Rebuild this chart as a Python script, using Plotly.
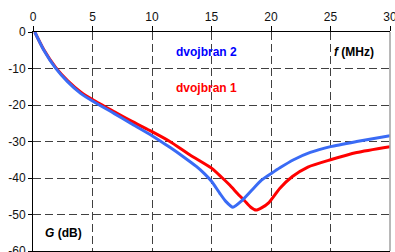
import plotly.graph_objects as go

# dvojbran 1 (red)
f1 = [0.15, 0.9, 1.9, 2.9, 4.0, 5.0, 6.8, 8.2, 10.0, 11.5, 13.2, 15.0, 15.85,
      16.55, 17.2, 17.8, 18.3, 18.75, 19.2, 19.8, 20.75, 21.8, 23.1, 25.0, 27.2, 30.0]
g1 = [0.0, -4.8, -9.7, -13.3, -16.4, -18.5, -21.8, -24.3, -27.3, -30.0, -33.7, -37.3, -39.8,
      -42.0, -44.3, -46.3, -48.0, -48.8, -48.2, -46.8, -42.8, -39.6, -37.0, -35.0, -33.0, -31.4]

# dvojbran 2 (blue)
f2 = [0.15, 0.9, 1.9, 2.9, 4.0, 5.0, 6.8, 8.2, 10.0, 11.5, 12.6, 13.75, 14.4, 15.0, 15.7, 16.2,
      16.8, 17.55, 18.4, 19.2, 20.05, 20.75, 21.9, 23.3, 25.0, 27.2, 30.0]
g2 = [0.0, -4.9, -9.9, -13.6, -16.8, -18.9, -22.3, -25.0, -28.4, -31.6, -34.1, -36.9, -38.8, -40.9, -44.2, -46.4,
      -48.0, -46.2, -43.3, -40.6, -38.7, -37.2, -35.0, -33.0, -31.4, -30.0, -28.4]

x_ticks = [0, 5, 10, 15, 20, 25, 30]
y_ticks = [0, -10, -20, -30, -40, -50, -60]
y_tick_text = ["0", "-10", "-20", "-30", "-40", "-50", "-60"]

FONT = "Liberation Sans, Arial, sans-serif"

fig = go.Figure()
fig.add_trace(go.Scatter(x=f1, y=g1, mode="lines", line=dict(color="#FF0000", width=3, shape="spline", smoothing=0.6),
                         name="dvojbran 1", hoverinfo="skip", cliponaxis=False))
fig.add_trace(go.Scatter(x=f2, y=g2, mode="lines", line=dict(color="#3A6BF5", width=3, shape="spline", smoothing=0.6),
                         name="dvojbran 2", hoverinfo="skip", cliponaxis=False))

fig.update_layout(
    width=395, height=252,
    margin=dict(l=33, r=5, t=32, b=1, autoexpand=False),
    paper_bgcolor="white", plot_bgcolor="white",
    showlegend=False,
    font=dict(family=FONT, size=12, color="#111111"),
    xaxis=dict(
        range=[0, 30], side="top", tickvals=x_ticks, ticks="outside", ticklen=5, tickcolor="#000",
        showline=True, linecolor="#000000", linewidth=1, mirror=True, automargin=False,
        ticklabeloverflow="allow",
        showgrid=True, gridcolor="#404040", griddash="8px,4px", gridwidth=1, zeroline=False,
        tickfont=dict(size=12),
    ),
    yaxis=dict(
        range=[-60, 0], tickvals=y_ticks, ticktext=y_tick_text, ticks="outside", ticklen=4, tickcolor="#000",
        showline=True, linecolor="#000000", linewidth=1, automargin=False,
        ticklabeloverflow="allow",
        showgrid=True, gridcolor="#404040", griddash="8px,4px", gridwidth=1, zeroline=False,
        tickfont=dict(size=12),
    ),
)

fig.add_shape(type="line", xref="paper", yref="paper", x0=1, x1=1, y0=0, y1=1,
              line=dict(color="#A0A0A0", width=1.5))

def ann(x, y, text, color):
    fig.add_annotation(x=x, y=y, xref="x", yref="y", text=text, showarrow=False,
                       font=dict(family=FONT, size=12, color=color), xanchor="center", yanchor="middle")

ann(14.6, -5.5, "<b>dvojbran 2</b>", "#0000FF")
ann(14.6, -15.3, "<b>dvojbran 1</b>", "#FF0000")
ann(27.0, -5.5, "<b><i>f</i> (MHz)</b>", "#000000")
ann(2.6, -55.0, "<b><i>G</i> (dB)</b>", "#000000")

fig.write_html("out.html", config={"displayModeBar": False, "staticPlot": True},
               post_script="document.body.style.margin='0';document.body.style.overflow='hidden';")
